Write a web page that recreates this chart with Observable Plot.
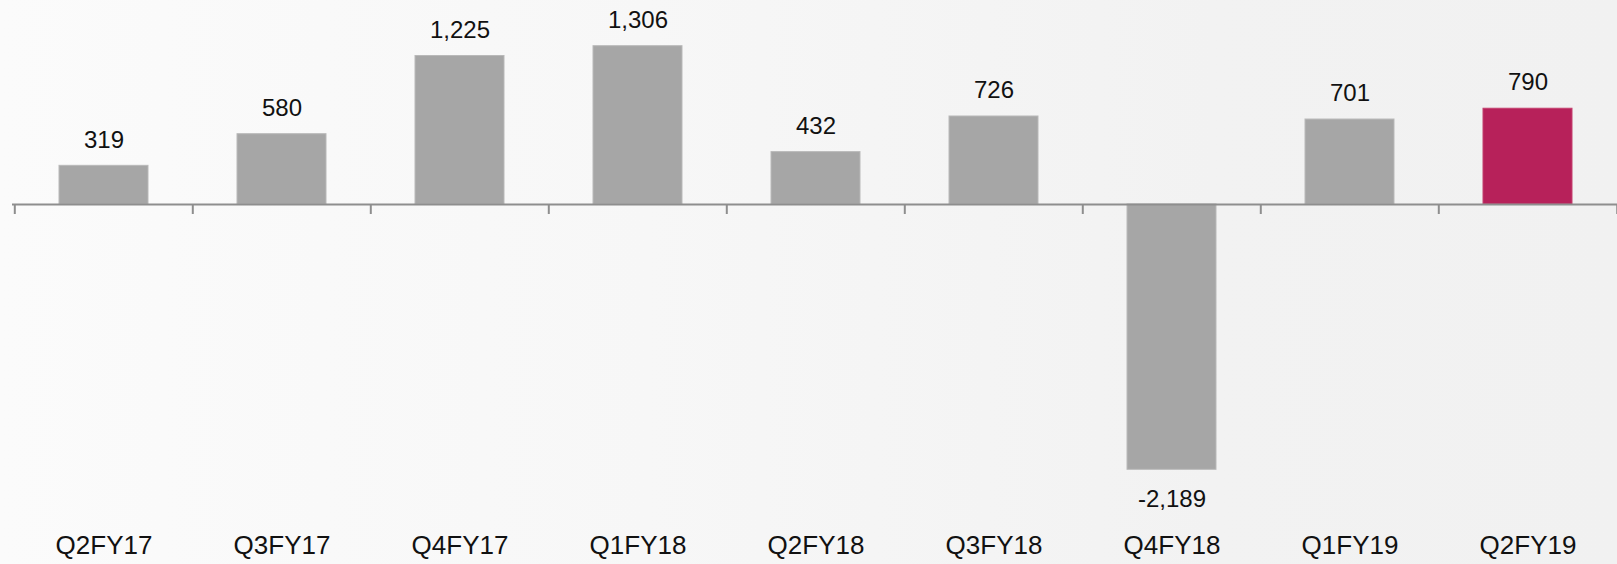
<!DOCTYPE html>
<html>
<head>
<meta charset="utf-8">
<script src="https://cdn.jsdelivr.net/npm/d3@7"></script>
<script src="https://cdn.jsdelivr.net/npm/@observablehq/plot@0.6"></script>
<style>
  html, body { margin: 0; padding: 0; }
  body {
    width: 1617px; height: 564px; overflow: hidden;
    background: linear-gradient(90deg, #fbfbfb 0%, #f7f7f7 40%, #f2f2f2 75%, #f1f1f1 100%);
    font-family: "Liberation Sans", Arial, sans-serif;
  }
  #chart svg { display: block; background: transparent; }
</style>
</head>
<body>
<div id="chart"></div>
<script>
const categories = ["Q2FY17","Q3FY17","Q4FY17","Q1FY18","Q2FY18","Q3FY18","Q4FY18","Q1FY19","Q2FY19"];
const values = [319, 580, 1225, 1306, 432, 726, -2189, 701, 790];
const highlight = ["Q2FY19"];

const data = categories.map((c, i) => ({cat: c, value: values[i], hi: highlight.includes(c)}));

const W = 1617, H = 564;
const xRange = [12.3, 1618];
const step = (xRange[1] - xRange[0]) / categories.length;
const fmt = d3.format(",");

const chart = Plot.plot({
  width: W,
  height: H,
  marginLeft: 12,
  marginRight: 0,
  marginTop: 0,
  marginBottom: 0,
  style: {background: "transparent", fontFamily: "'Liberation Sans', Arial, sans-serif"},
  x: {domain: categories, range: xRange, paddingInner: 0.5, paddingOuter: 0.25, axis: null},
  y: {domain: [-2189, 1306], range: [469.3, 45.7], axis: null},
  marks: [
    Plot.barY(data, {
      x: "cat", y: "value",
      fill: d => d.hi ? "#b7215a" : "#a6a6a6",
      stroke: d => d.hi ? "#c4406f" : "#b9b9b9",
      strokeWidth: 1
    }),
    Plot.ruleY([0], {stroke: "#8e8e8e", strokeWidth: 2}),
    Plot.ruleX(categories, {x: d => d, y1: 0, y2: 0, dx: -step / 2, insetBottom: -10, stroke: "#8e8e8e", strokeWidth: 2}),
    Plot.ruleX([categories[categories.length - 1]], {x: d => d, y1: 0, y2: 0, dx: step / 2, insetBottom: -10, stroke: "#8e8e8e", strokeWidth: 2}),
    Plot.text(data.filter(d => d.value >= 0), {
      x: "cat", y: "value", text: d => fmt(d.value),
      dy: -26, fontSize: 24, fill: "#111", lineAnchor: "middle"
    }),
    Plot.text(data.filter(d => d.value < 0), {
      x: "cat", y: "value", text: d => fmt(d.value).replace("−", "-"),
      dy: 30, fontSize: 24, fill: "#111", lineAnchor: "middle"
    }),
    Plot.text(categories, {
      x: d => d, frameAnchor: "bottom", text: d => d,
      dy: -19, fontSize: 26, fill: "#111", lineAnchor: "middle"
    })
  ]
});

document.getElementById("chart").appendChild(chart);
</script>
</body>
</html>
